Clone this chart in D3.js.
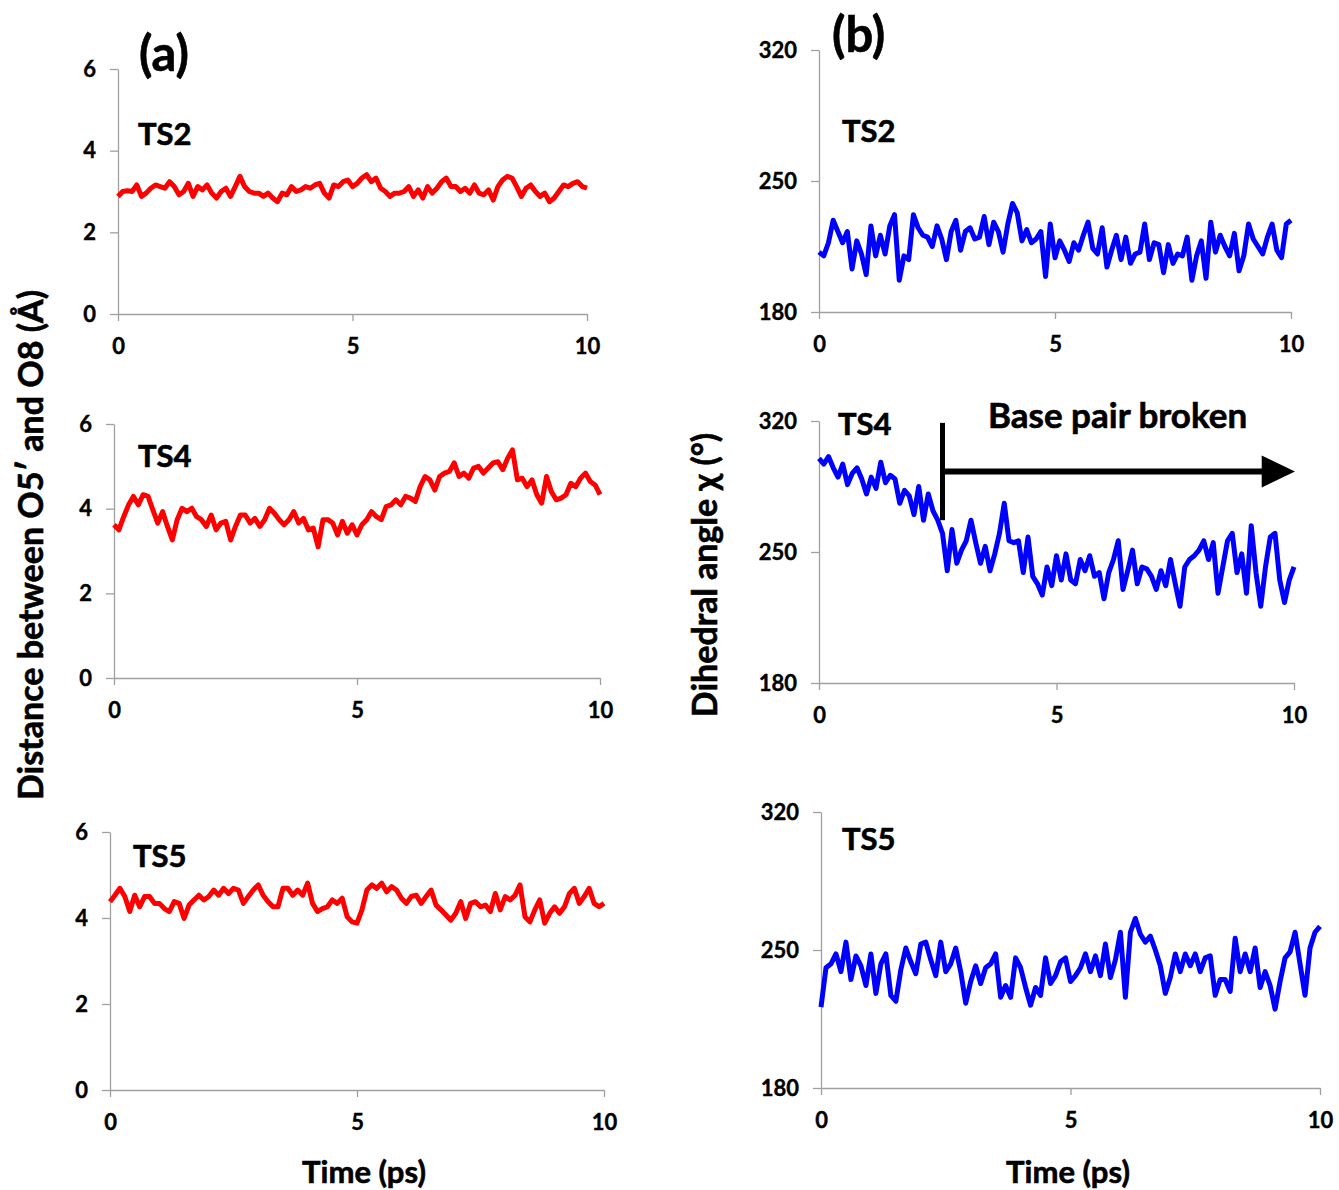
<!DOCTYPE html>
<html>
<head>
<meta charset="utf-8">
<script src="https://cdn.jsdelivr.net/npm/d3@7"></script>
<style>
  body { margin: 0; background: #fff; }
  svg { font-family: "Lato", "DejaVu Sans", sans-serif; font-weight: bold; }
  svg text { stroke: #000; stroke-width: 0.6; }
  .axis path, .axis line { stroke: #a0a0a0; stroke-width: 1.3; }
  .axis text { font-size: 22px; font-weight: bold; fill: #000; font-family: "Lato", sans-serif; stroke-width: 0.4; }
</style>
</head>
<body>
<svg id="plot" width="1339" height="1190"></svg>
<script>
// samples every 0.1 ps, 0 .. 10 ps
const TIME_STEP = 0.1;
const X_TICKS = [0, 5, 10];
const DIST_TICKS = [0, 2, 4, 6];
const ANGLE_TICKS = [180, 250, 320];

// (a) distance O5'-O8 (angstrom)
const TS2_DIST = [2.88, 3.00, 3.02, 3.00, 3.16, 2.88, 2.96, 3.08, 3.16, 3.12,
  3.08, 3.24, 3.12, 2.92, 3.00, 3.20, 2.88, 3.12, 3.04, 3.16,
  2.96, 2.84, 3.00, 3.08, 2.88, 3.12, 3.37, 3.12, 3.00, 2.96,
  2.96, 2.88, 2.96, 2.84, 2.75, 2.96, 2.92, 3.12, 3.00, 3.04,
  3.12, 3.08, 3.16, 3.20, 2.96, 2.84, 3.16, 3.12, 3.24, 3.28,
  3.12, 3.20, 3.33, 3.41, 3.24, 3.33, 3.08, 3.00, 2.88, 2.96,
  2.96, 3.00, 3.12, 2.88, 3.04, 2.84, 3.12, 2.96, 3.08, 3.24,
  3.33, 3.12, 3.12, 3.00, 3.08, 2.96, 3.16, 2.96, 2.92, 3.04,
  2.79, 3.12, 3.28, 3.37, 3.33, 3.12, 2.88, 3.08, 3.16, 3.00,
  2.88, 2.96, 2.75, 2.84, 3.00, 3.16, 3.12, 3.20, 3.24, 3.12, 3.08];
const TS4_DIST = [3.62, 3.50, 3.81, 4.09, 4.29, 4.09, 4.33, 4.29, 3.97, 3.66,
  3.93, 3.58, 3.26, 3.74, 4.01, 3.93, 4.01, 3.81, 3.74, 3.58,
  3.85, 3.50, 3.66, 3.70, 3.26, 3.58, 3.85, 3.85, 3.66, 3.77,
  3.58, 3.74, 4.01, 3.89, 3.74, 3.62, 3.74, 3.93, 3.66, 3.77,
  3.50, 3.54, 3.10, 3.74, 3.74, 3.66, 3.38, 3.70, 3.42, 3.62,
  3.38, 3.62, 3.74, 3.93, 3.81, 3.74, 4.05, 4.09, 4.21, 4.09,
  4.29, 4.25, 4.17, 4.52, 4.76, 4.68, 4.44, 4.76, 4.84, 4.88,
  5.08, 4.76, 4.84, 4.72, 4.96, 5.00, 4.84, 4.96, 5.08, 5.11,
  4.92, 5.19, 5.39, 4.68, 4.72, 4.52, 4.68, 4.33, 4.13, 4.76,
  4.40, 4.21, 4.25, 4.33, 4.60, 4.52, 4.72, 4.84, 4.64, 4.56, 4.33];
const TS5_DIST = [4.38, 4.53, 4.69, 4.50, 4.15, 4.53, 4.26, 4.50, 4.50, 4.34,
  4.34, 4.22, 4.15, 4.38, 4.34, 3.99, 4.30, 4.42, 4.53, 4.42,
  4.50, 4.65, 4.53, 4.69, 4.57, 4.69, 4.65, 4.34, 4.50, 4.65,
  4.77, 4.53, 4.38, 4.26, 4.26, 4.69, 4.69, 4.53, 4.65, 4.53,
  4.81, 4.34, 4.15, 4.22, 4.26, 4.42, 4.34, 4.46, 4.03, 3.91,
  3.88, 4.19, 4.65, 4.77, 4.69, 4.81, 4.61, 4.73, 4.65, 4.46,
  4.34, 4.50, 4.53, 4.34, 4.50, 4.65, 4.30, 4.19, 4.07, 3.95,
  4.11, 4.38, 3.99, 4.34, 4.38, 4.26, 4.30, 4.15, 4.57, 4.19,
  4.50, 4.42, 4.53, 4.77, 4.03, 3.91, 4.19, 4.42, 3.88, 4.11,
  4.26, 4.11, 4.26, 4.57, 4.69, 4.34, 4.50, 4.69, 4.34, 4.26, 4.34];

// (b) dihedral angle chi (degrees)
const TS2_CHI = [212, 210, 217, 229, 223, 217, 223, 203, 218, 211,
  200, 226, 210, 221, 211, 226, 232, 197, 210, 208,
  232, 225, 221, 220, 215, 226, 219, 208, 223, 229,
  213, 223, 225, 219, 220, 231, 216, 228, 223, 212,
  227, 238, 233, 218, 224, 217, 219, 223, 199, 227,
  209, 218, 213, 207, 217, 213, 221, 228, 214, 211,
  225, 204, 213, 221, 208, 220, 206, 211, 212, 227,
  208, 217, 216, 201, 216, 206, 211, 210, 220, 197,
  210, 218, 198, 228, 212, 221, 215, 210, 222, 202,
  210, 227, 219, 215, 211, 220, 227, 213, 209, 227, 229];
const TS4_CHI = [300, 297, 301, 295, 290, 297, 286, 292, 295, 289,
  281, 290, 284, 298, 287, 291, 289, 276, 283, 280,
  270, 285, 267, 281, 272, 267, 260, 240, 262, 244,
  251, 256, 267, 255, 244, 253, 240, 249, 260, 276,
  256, 255, 256, 239, 258, 237, 233, 227, 242, 232,
  248, 235, 249, 235, 233, 246, 240, 248, 237, 239,
  225, 239, 246, 256, 230, 240, 251, 233, 242, 241,
  237, 230, 240, 232, 246, 233, 221, 242, 246, 248,
  251, 256, 246, 255, 228, 242, 256, 260, 239, 249,
  228, 264, 239, 221, 242, 258, 260, 235, 223, 235, 242];
const TS5_CHI = [221, 241, 243, 248, 239, 254, 235, 247, 242, 232,
  248, 228, 243, 248, 227, 224, 240, 251, 244, 238,
  253, 254, 245, 237, 254, 239, 243, 251, 239, 223,
  234, 242, 233, 241, 243, 248, 226, 232, 226, 246,
  241, 231, 222, 231, 227, 246, 233, 237, 244, 246,
  234, 237, 241, 248, 239, 247, 237, 253, 236, 245,
  259, 226, 259, 266, 258, 254, 257, 250, 242, 228,
  236, 248, 239, 248, 242, 248, 239, 246, 247, 227,
  235, 235, 229, 256, 239, 248, 239, 251, 231, 239,
  232, 220, 234, 246, 249, 259, 243, 227, 251, 259, 262];

function whenDocumentLoaded(action) {
  if (document.readyState === "loading") {
    document.addEventListener("DOMContentLoaded", action);
  } else {
    action();
  }
}

function drawPanel(svg, p) {
  const x = d3.scaleLinear().domain([0, 10]).range([p.x0, p.x1]);
  const y = d3.scaleLinear().domain(p.domain).range([p.yBot, p.yTop]);

  svg.append("g")
    .attr("class", "axis")
    .attr("transform", `translate(0,${p.yBot})`)
    .call(d3.axisBottom(x).tickValues(X_TICKS).tickSize(7).tickSizeOuter(0).tickPadding(17));

  svg.append("g")
    .attr("class", "axis")
    .attr("transform", `translate(${p.x0},0)`)
    .call(d3.axisLeft(y).tickValues(p.ticks).tickFormat(d3.format("d"))
      .tickSize(8).tickSizeOuter(0).tickPadding(14));

  const line = d3.line()
    .x((d, i) => x(i * TIME_STEP))
    .y(d => y(d));

  svg.append("path")
    .datum(p.values)
    .attr("fill", "none")
    .attr("stroke", p.color)
    .attr("stroke-width", 5)
    .attr("stroke-linejoin", "round")
    .attr("d", line);

  svg.append("text")
    .attr("x", p.labelX)
    .attr("y", p.labelY)
    .attr("font-size", 31)
    .text(p.name);

  return { x, y };
}

whenDocumentLoaded(() => {
  const svg = d3.select("#plot");

  const panels = [
    { name: "TS2", values: TS2_DIST, color: "#ff0000", domain: [0, 6], ticks: DIST_TICKS,
      x0: 118, x1: 587, yTop: 69, yBot: 314, labelX: 138, labelY: 145 },
    { name: "TS4", values: TS4_DIST, color: "#ff0000", domain: [0, 6], ticks: DIST_TICKS,
      x0: 114, x1: 600, yTop: 424, yBot: 678, labelX: 138, labelY: 467 },
    { name: "TS5", values: TS5_DIST, color: "#ff0000", domain: [0, 6], ticks: DIST_TICKS,
      x0: 110, x1: 604, yTop: 832, yBot: 1090, labelX: 133, labelY: 867 },
    { name: "TS2", values: TS2_CHI, color: "#0000ff", domain: [180, 320], ticks: ANGLE_TICKS,
      x0: 819, x1: 1291, yTop: 50, yBot: 312, labelX: 842, labelY: 142 },
    { name: "TS4", values: TS4_CHI, color: "#0000ff", domain: [180, 320], ticks: ANGLE_TICKS,
      x0: 819, x1: 1294, yTop: 421, yBot: 683, labelX: 838, labelY: 435 },
    { name: "TS5", values: TS5_CHI, color: "#0000ff", domain: [180, 320], ticks: ANGLE_TICKS,
      x0: 821, x1: 1320, yTop: 812, yBot: 1088, labelX: 842, labelY: 850 }
  ];

  const scales = panels.map(p => drawPanel(svg, p));

  // "Base pair broken" annotation on TS4 (b)
  const s = scales[4];
  svg.append("line")
    .attr("x1", s.x(2.6)).attr("x2", s.x(2.6))
    .attr("y1", s.y(319)).attr("y2", s.y(267))
    .attr("stroke", "#000").attr("stroke-width", 5);
  svg.append("line")
    .attr("x1", s.x(2.6)).attr("x2", s.x(9.4))
    .attr("y1", s.y(293)).attr("y2", s.y(293))
    .attr("stroke", "#000").attr("stroke-width", 6);
  svg.append("path")
    .attr("d", `M${s.x(9.32)},${s.y(293) - 16}L${s.x(10.02)},${s.y(293)}L${s.x(9.32)},${s.y(293) + 16}Z`)
    .attr("fill", "#000");
  svg.append("text")
    .attr("x", 988).attr("y", 428)
    .attr("font-size", 35)
    .text("Base pair broken");

  // panel letters
  svg.append("text").attr("x", 139).attr("y", 71).attr("font-size", 49).text("(a)");
  svg.append("text").attr("x", 832).attr("y", 52).attr("font-size", 49).text("(b)");

  // axis titles
  svg.append("text")
    .attr("transform", "translate(43,545) rotate(-90)")
    .attr("text-anchor", "middle")
    .attr("font-size", 34)
    .text("Distance between O5\u2032 and O8 (\u00c5)");
  svg.append("text")
    .attr("transform", "translate(717,575) rotate(-90)")
    .attr("text-anchor", "middle")
    .attr("font-size", 34)
    .text("Dihedral angle \u03c7 (\u00b0)");
  svg.append("text")
    .attr("x", 364).attr("y", 1183)
    .attr("text-anchor", "middle")
    .attr("font-size", 31)
    .text("Time (ps)");
  svg.append("text")
    .attr("x", 1068).attr("y", 1183)
    .attr("text-anchor", "middle")
    .attr("font-size", 31)
    .text("Time (ps)");
});
</script>
</body>
</html>
